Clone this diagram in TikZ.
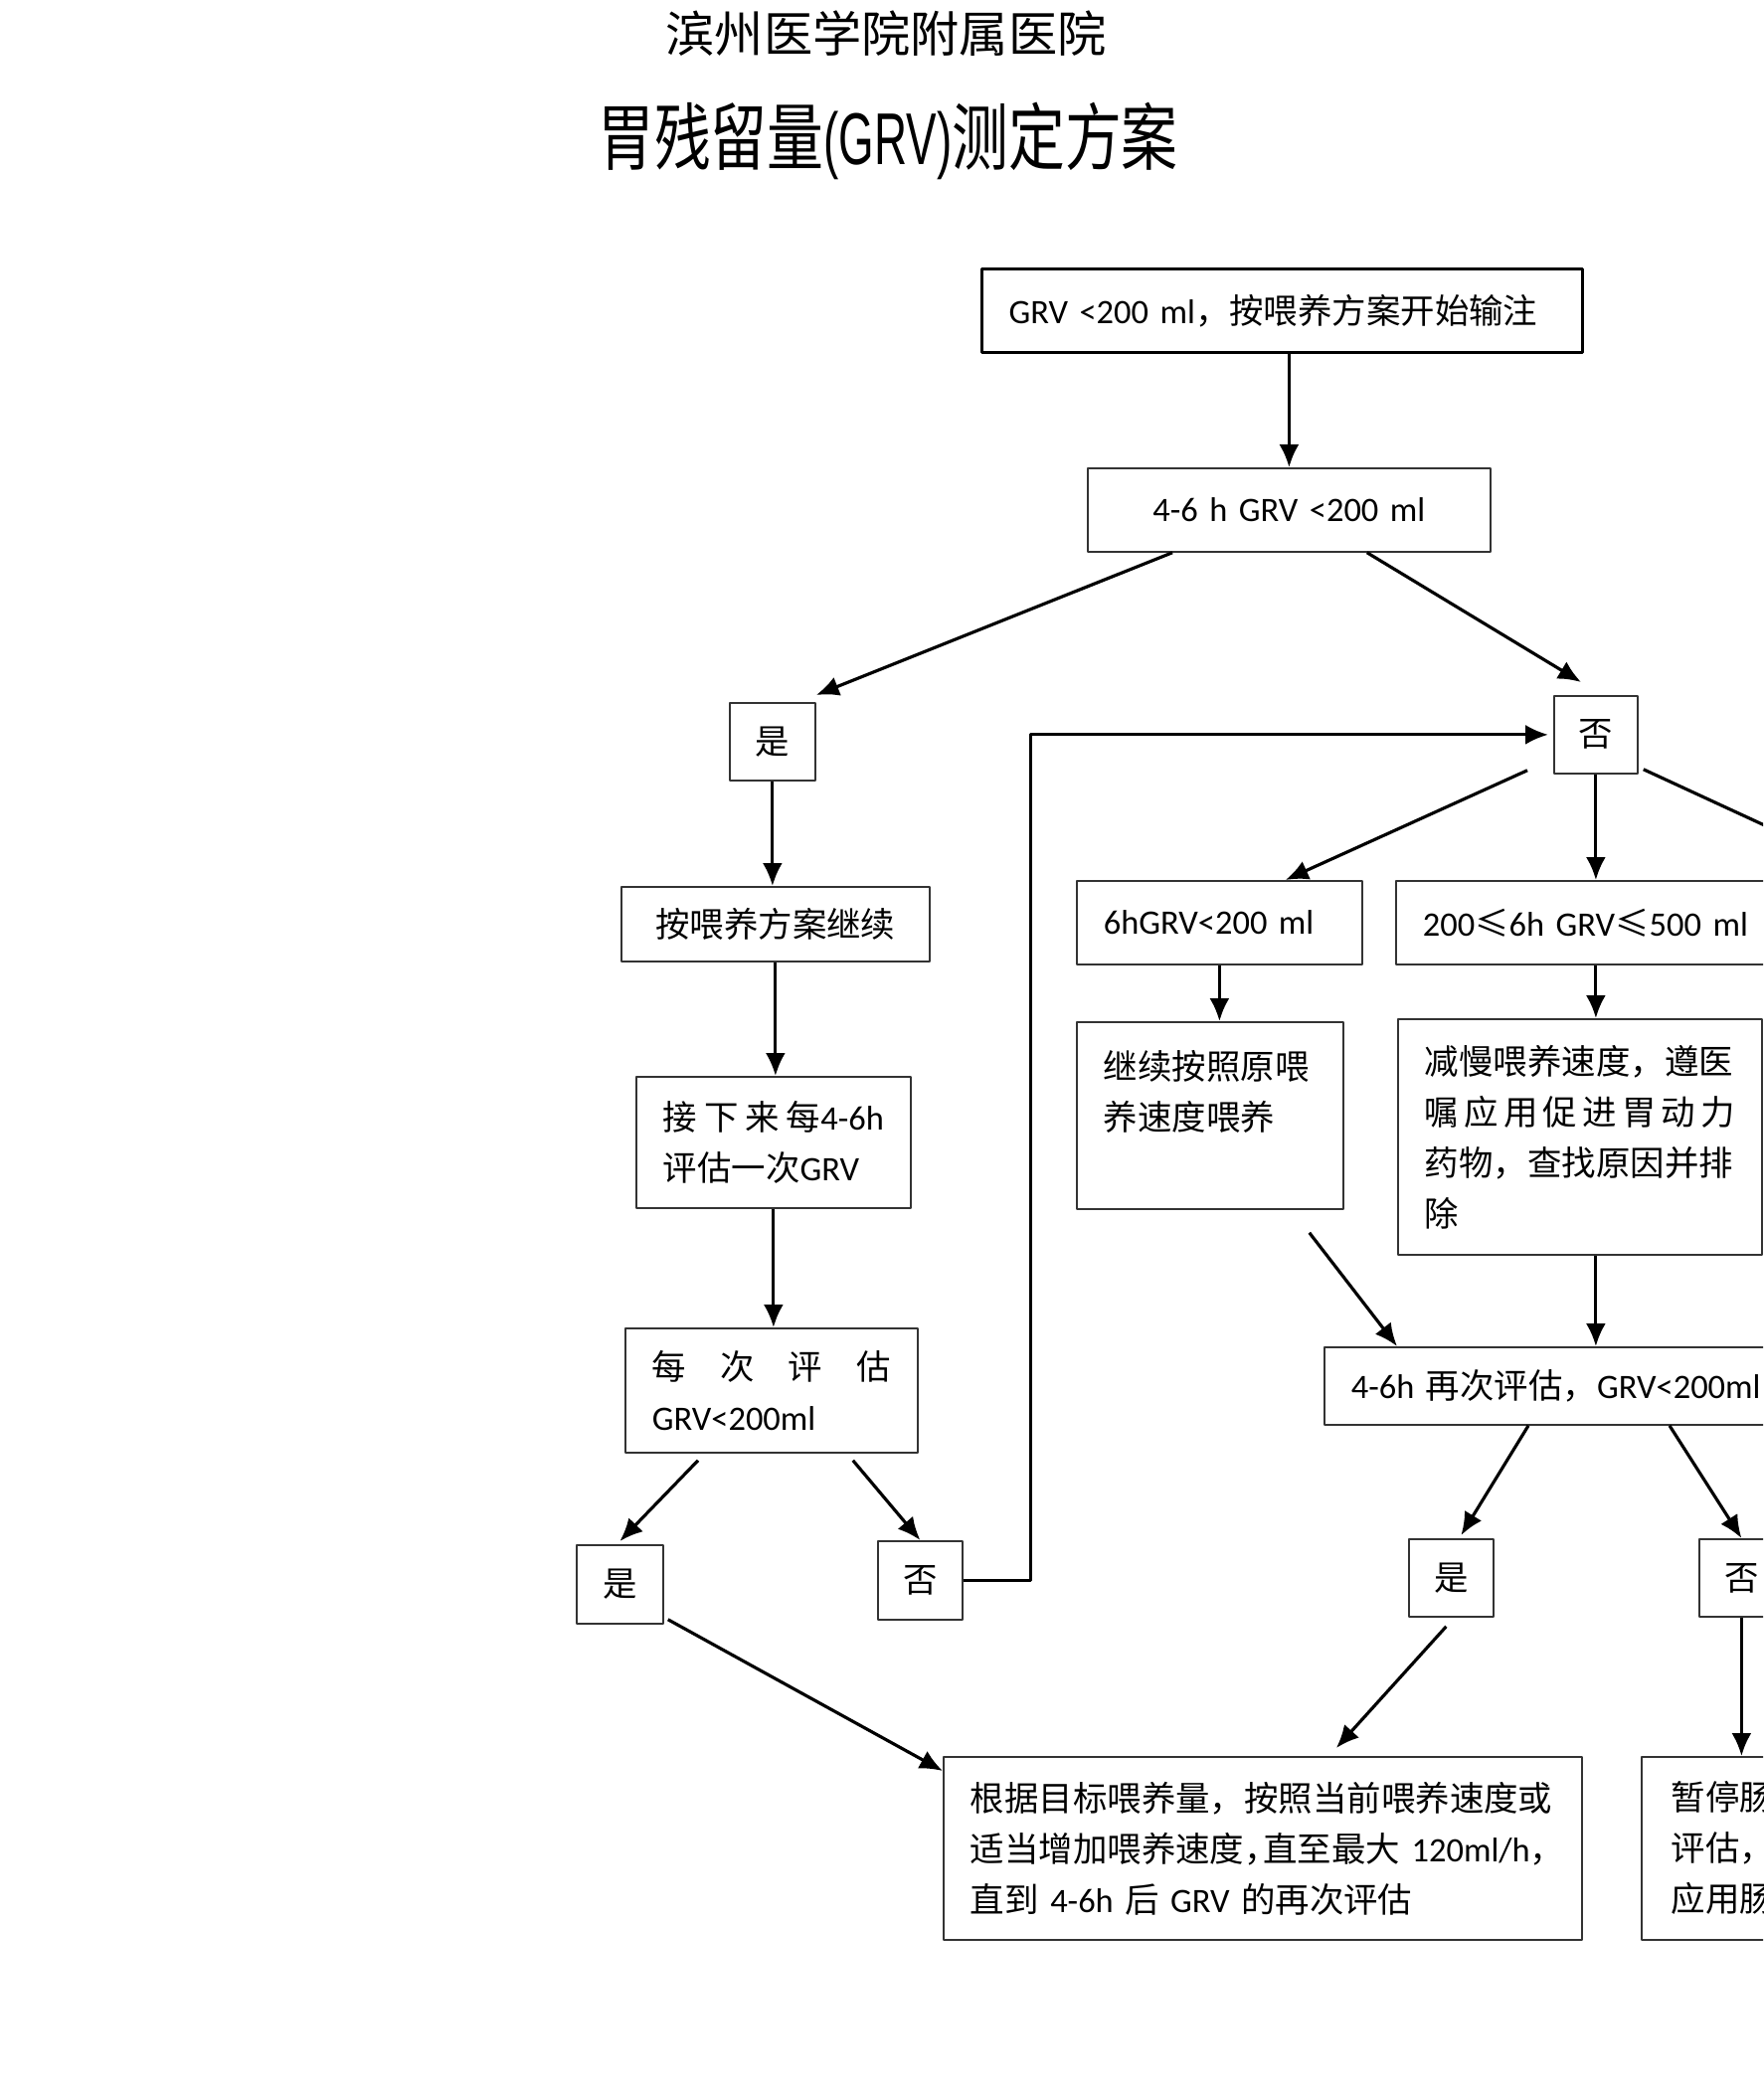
\documentclass[tikz,border=0pt]{standalone}
\usepackage{fontspec}
\setmainfont{Carlito}
\newfontfamily\cjk{Noto Sans CJK SC}
\newfontfamily\cjknarrow[FakeStretch=0.77]{Noto Sans CJK SC}
\newfontfamily\grvfont[FakeStretch=0.62]{Liberation Sans}
\newcommand\zh[1]{{\cjk #1}}
\DeclareRobustCommand\boxfont{\fontsize{9.8pt}{14.5pt}\selectfont\spaceskip=.22em\relax}
\usetikzlibrary{arrows.meta}

\begin{document}
\begin{tikzpicture}[x=.1mm,y=-.1mm,>={Latex[length=2.3mm,width=2mm]},line join=round,
    box/.style={draw=black!80,line width=.5pt,inner xsep=2.7mm,inner ysep=0pt,anchor=north west,
        align=left,font=\boxfont},
    small/.style={draw=black!80,line width=.5pt,inner sep=0pt,anchor=north west,
        font=\boxfont\cjk},
    arr/.style={->,line width=.9pt}]
\useasboundingbox (0,0) rectangle (1773,2112);
\clip (0,0) rectangle (1773,2112);

% titles
\node[anchor=base,font=\fontsize{14pt}{16pt}\selectfont\cjk] (hosp) at (891,53) {滨州医学院附属医院};
\node[anchor=base,font=\fontsize{21pt}{24pt}\selectfont\cjknarrow] (title) at (893,166) {胃残留量{\grvfont (GRV)}测定方案};

% boxes
\node[box,draw=black,line width=.9pt,text width=55mm,minimum height=8.4mm] (start) at (986,269) {GRV <200 ml\zh{，按喂养方案开始输注}};
\node[box,align=center,text width=35.1mm,minimum height=8.4mm] (chk) at (1093,470) {4-6 h GRV <200 ml};
\node[small,minimum width=8.6mm,minimum height=7.8mm] (yes1) at (733,706) {是};
\node[small,minimum width=8.4mm,minimum height=7.8mm] (no1) at (1562,699) {否};
\node[small,minimum width=31mm,minimum height=7.5mm] (cont) at (624,891) {按喂养方案继续};
\node[box,text width=23.3mm,minimum height=8.4mm] (lowg) at (1082,885) {6hGRV<200 ml};
\node[box,text width=34.6mm,minimum height=8.4mm] (midg) at (1403,885) {200\zh{≤}6h GRV\zh{≤}500 ml};
\node[box,text width=22.2mm,minimum height=13.2mm] (next) at (639,1082)
    {\zh{接\hfill 下\hfill 来\hfill 每}4-6h\\\zh{评估一次}GRV};
\node[box,text width=21.4mm,minimum height=18.8mm] (keep) at (1082,1027)
    {\zh{继续按照原喂}\\\zh{养速度喂养}\\\mbox{}};
\node[box,text width=31.2mm,minimum height=23.7mm] (slow) at (1405,1024)
    {\zh{减慢喂养速度，遵医}\\\zh{嘱\hfill 应\hfill 用\hfill 促\hfill 进\hfill 胃\hfill 动\hfill 力}\\\zh{药物，查找原因并排}\\\zh{除}};
\node[box,text width=24mm,minimum height=12.5mm] (each) at (628,1335)
    {\zh{每\hfill 次\hfill 评\hfill 估}\\GRV<200ml};
\node[box,text width=42.6mm,minimum height=7.8mm] (again) at (1331,1354) {4-6h \zh{再次评估，}GRV<200ml};
\node[small,minimum width=8.7mm,minimum height=7.9mm] (yes2) at (579,1553) {是};
\node[small,minimum width=8.5mm,minimum height=7.9mm] (no2) at (882,1549) {否};
\node[small,minimum width=8.5mm,minimum height=7.8mm] (yes3) at (1416,1547) {是};
\node[small,minimum width=8.5mm,minimum height=7.8mm] (no3) at (1708,1547) {否};
\node[box,text width=58.8mm,minimum height=18.4mm] (rate) at (948,1766)
    {\zh{根据目标喂养量，按照当前喂养速度或}\\\mbox{\zh{适当增加喂养速度，\hspace{-.45em}直至最大} 120ml/h\zh{，}}\\\zh{直到} 4-6h \zh{后} GRV \zh{的再次评估}};
\node[box,inner xsep=3mm,text width=34mm,minimum height=18.4mm] (stop) at (1650,1766)
    {\zh{暂停肠}\\\zh{评估，}\\\zh{应用肠}};
\coordinate (off) at (1900,888);

% arrows
\draw[arr] (start.south -| chk.north) -- (chk.north);
\draw[arr] ([xshift=8.6mm]chk.south west) -- ([yshift=.7mm]yes1.north east);
\draw[arr] ([xshift=-12.5mm]chk.south east) -- ([xshift=2.8mm,yshift=1.3mm]no1.north west);
\draw[arr] ([xshift=-2.6mm,yshift=.4mm]no1.south west) -- ([xshift=-7.8mm]lowg.north east);
\draw[arr] (no1.south) -- (no1.south |- midg.north);
\draw[arr] ([xshift=.5mm,yshift=.5mm]no1.south east) -- (off);
\draw[arr] (yes1.south) -- (yes1.south |- cont.north);
\draw[arr] (cont.south) -- (cont.south |- next.north);
\draw[arr] (next.south) -- (next.south |- each.north);
\draw[arr] (lowg.south) -- (lowg.south |- keep.north);
\draw[arr] (no1.south |- midg.south) -- (no1.south |- slow.north);
\draw[arr] ([xshift=-3.5mm,yshift=-2.3mm]keep.south east) -- ([xshift=7.4mm]again.north west);
\draw[arr] (no1.south |- slow.south) -- (no1.south |- again.north);
\draw[arr] ([xshift=7.4mm,yshift=-.7mm]each.south west) -- ([yshift=.3mm]yes2.north);
\draw[arr] ([xshift=-6.6mm,yshift=-.7mm]each.south east) -- (no2.north);
\draw[arr] (no2.east) -- ++(6.8mm,0) |- ([xshift=-.5mm]no1.west);
\draw[arr] ([xshift=.4mm,yshift=.5mm]yes2.south east) -- ([yshift=-1.5mm]rate.north west);
\draw[arr] ([xshift=20.6mm]again.south west) -- ([xshift=1mm,yshift=.3mm]yes3.north);
\draw[arr] ([xshift=34.8mm]again.south west) -- (no3.north);
\draw[arr] ([xshift=-.5mm,yshift=-.9mm]yes3.south) -- ([xshift=7.4mm,yshift=.8mm]rate.north);
\draw[arr] (no3.south) -- (no3.south |- stop.north);
\end{tikzpicture}
\end{document}
